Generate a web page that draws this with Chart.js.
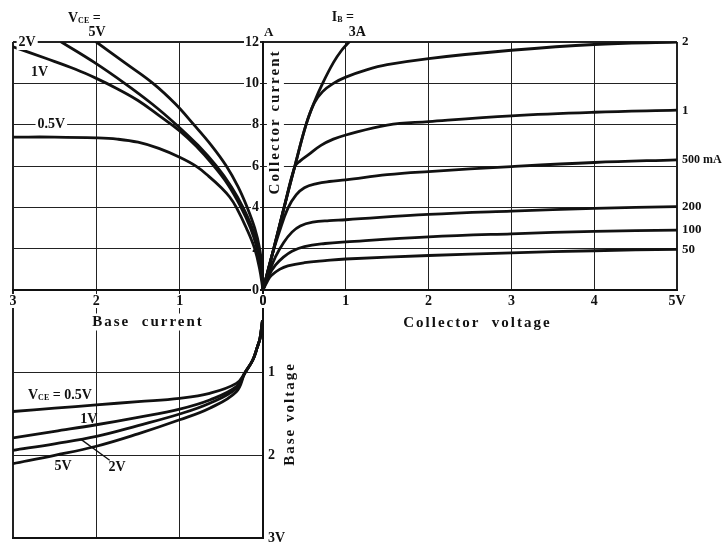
<!DOCTYPE html>
<html>
<head>
<meta charset="utf-8">
<script src="https://cdn.jsdelivr.net/npm/chart.js@4.4.1/dist/chart.umd.min.js"></script>
<style>
  html, body { margin: 0; padding: 0; background: #fff; }
  #wrap { position: relative; width: 723px; height: 542px; overflow: hidden; }
  canvas { position: absolute; }
  #cBase { left: 0; top: 280px; z-index: 1; }
  #cIcIb { left: 0; top: 0; z-index: 2; }
  #cIcVc { left: 250px; top: 0; z-index: 3; }
</style>
</head>
<body>
<div id="wrap">
  <canvas id="cBase" width="300" height="262"></canvas>
  <canvas id="cIcIb" width="300" height="345"></canvas>
  <canvas id="cIcVc" width="473" height="345"></canvas>
</div>
<script>
// tick values
const baseCurrentTicks = [0, 1, 2, 3];            // A (axis runs right to left)
const collectorCurrentTicks = [0, 2, 4, 6, 8, 10, 12]; // A
const collectorVoltageTicks = [0, 1, 2, 3, 4, 5];  // V
const baseVoltageTicks = [0, 1, 2, 3];             // V (downwards)

// collector voltage (V) -> collector current (A), one curve per base current
const ibLabels = ['3A', '2', '1', '500 mA', '200', '100', '50'];
const ib3A = [[0,0],[0.13,2],[0.255,4],[0.385,6],[0.52,8],[0.62,9.1],[0.72,10],[0.85,11],[0.95,11.6],[1.04,12]];
const ib2A = [[0,0],[0.13,2],[0.255,4],[0.385,6],[0.52,8],[0.62,9.05],[0.72,9.6],[0.85,10.0],[1,10.3],[1.25,10.65],[1.5,10.9],[2,11.2],[3,11.6],[4,11.88],[5,12]];
const ib1A = [[0,0],[0.13,2],[0.255,4],[0.385,5.97],[0.45,6.25],[0.55,6.55],[0.7,7.0],[0.85,7.3],[1,7.5],[1.5,7.98],[2,8.15],[3,8.43],[4,8.6],[5,8.7]];
const ib500 = [[0,0],[0.1,1.55],[0.2,2.85],[0.3,3.95],[0.4,4.6],[0.5,4.95],[0.65,5.15],[0.8,5.25],[1,5.33],[1.5,5.58],[2,5.73],[3,5.97],[4,6.17],[5,6.3]];
const ib200 = [[0,0],[0.07,0.8],[0.15,1.6],[0.25,2.3],[0.35,2.8],[0.45,3.1],[0.6,3.28],[0.8,3.36],[1,3.4],[2,3.66],[3,3.82],[4,3.95],[5,4.03]];
const ib100 = [[0,0],[0.07,0.7],[0.15,1.2],[0.25,1.6],[0.35,1.88],[0.5,2.1],[0.75,2.25],[1,2.33],[2,2.57],[3,2.72],[4,2.84],[5,2.9]];
const ib50 = [[0,0],[0.05,0.4],[0.1,0.7],[0.2,1.0],[0.3,1.17],[0.5,1.32],[0.75,1.42],[1,1.5],[2,1.67],[3,1.8],[4,1.9],[5,1.97]];

// base current (A) -> collector current (A), one curve per collector voltage
const ic5V = [[0,0],[0.01,1],[0.04,2],[0.1,3],[0.19,4],[0.3,5],[0.44,6],[0.62,7],[0.83,8],[1.05,9],[1.32,10],[1.66,11],[2.0,12]];
const ic2V = [[0,0],[0.02,1],[0.06,2],[0.13,3],[0.24,4],[0.38,5],[0.56,6],[0.78,7],[1.04,8],[1.33,9],[1.66,10],[2.02,11],[2.42,12]];
const ic1V = [[0,0],[0.02,1],[0.07,2],[0.15,3],[0.27,4.05],[0.42,5.1],[0.6,6.05],[0.8,6.95],[1.0,7.7],[1.25,8.45],[1.5,9.17],[1.75,9.74],[2.0,10.24],[2.25,10.68],[2.6,11.2],[3,11.77]];
const ic05V = [[0,0],[0.04,1],[0.1,2],[0.2,3],[0.32,4],[0.4,4.5],[0.5,4.95],[0.65,5.5],[0.8,5.98],[1.0,6.42],[1.25,6.85],[1.5,7.15],[1.75,7.3],[2.0,7.36],[2.5,7.4],[3,7.4]];

// base current (A) -> base voltage (V)
const vbCommon = [[0.008,0.38],[0.035,0.58],[0.068,0.69],[0.124,0.85],[0.216,1.0]];
const vb05V = [...vbCommon, [0.32,1.13],[0.64,1.25],[1,1.31],[1.5,1.35],[2,1.39],[2.5,1.43],[3,1.47]];
const vb1V = [...vbCommon, [0.32,1.17],[0.64,1.33],[1,1.44],[1.5,1.54],[2,1.63],[2.5,1.71],[3,1.79]];
const vb2V = [...vbCommon, [0.32,1.19],[0.64,1.37],[1,1.5],[1.5,1.64],[2,1.77],[2.5,1.86],[3,1.94]];
const vb5V = [...vbCommon, [0.32,1.23],[0.64,1.43],[1,1.57],[1.5,1.74],[2,1.89],[2.5,2.0],[3,2.1]];

const SERIF = '"Liberation Serif", "DejaVu Serif", "Times New Roman", serif';
Chart.defaults.font.family = SERIF;
Chart.defaults.font.weight = 'bold';
Chart.defaults.font.size = 14;
Chart.defaults.color = '#111';
Chart.defaults.animation = false;
Chart.defaults.plugins.legend.display = false;
Chart.defaults.plugins.tooltip.enabled = false;

function curve(points) {
    return {
        data: points.map(p => ({ x: p[0], y: p[1] })),
        borderColor: '#111',
        borderWidth: 2.8,
        pointRadius: 0,
        fill: false,
        tension: 0.4,
        borderCapStyle: 'round',
        borderJoinStyle: 'round'
    };
}

// thin grid, heavier frame
function grid(ticks) {
    const lo = Math.min(...ticks), hi = Math.max(...ticks);
    return {
        color: '#222',
        drawTicks: false,
        lineWidth: c => (c.tick && (c.tick.value === lo || c.tick.value === hi)) ? 2 : 1
    };
}

function fixedTicks(ticks) {
    return s => { s.ticks = ticks.map(v => ({ value: v })); };
}

// pin an axis to a set thickness and stop it pushing the plot area in
function fixedSize(prop, size) {
    return s => {
        s[prop] = size;
        s.paddingTop = s.paddingBottom = s.paddingLeft = s.paddingRight = 0;
    };
}

// text with optional subscripts, rotation and white backdrop
function drawRich(ctx, parts, x, y, o) {
    if (typeof parts === 'string') parts = [[parts, o.size || 14, 0]];
    ctx.save();
    ctx.translate(x, y);
    if (o.rotate) ctx.rotate(o.rotate);
    ctx.textBaseline = 'middle';
    ctx.textAlign = 'left';
    ctx.letterSpacing = (o.spacing || 0) + 'px';
    const widths = parts.map(p => {
        ctx.font = 'bold ' + p[1] + 'px ' + SERIF;
        return ctx.measureText(p[0]).width;
    });
    const total = widths.reduce((a, b) => a + b, 0);
    let cx = o.align === 'left' ? 0 : (o.align === 'right' ? -total : -total / 2);
    if (o.backdrop) {
        const h = (o.size || 14) + 2;
        ctx.fillStyle = '#fff';
        ctx.fillRect(cx - 2, -h / 2, total + 4, h);
    }
    ctx.fillStyle = '#111';
    parts.forEach((p, i) => {
        ctx.font = 'bold ' + p[1] + 'px ' + SERIF;
        ctx.fillText(p[0], cx, p[2] || 0);
        cx += widths[i];
    });
    ctx.restore();
}

function notes(items) {
    return {
        id: 'notes',
        afterDraw(chart) {
            const ctx = chart.ctx;
            const px = v => chart.scales.x.getPixelForValue(v);
            const py = v => chart.scales.y.getPixelForValue(v);
            items.forEach(it => {
                if (it.line) {
                    ctx.save();
                    ctx.strokeStyle = '#111';
                    ctx.lineWidth = 1.3;
                    ctx.beginPath();
                    ctx.moveTo(px(it.line[0][0]), py(it.line[0][1]));
                    ctx.lineTo(px(it.line[1][0]), py(it.line[1][1]));
                    ctx.stroke();
                    ctx.restore();
                    return;
                }
                drawRich(ctx, it.parts, px(it.at[0]) + (it.dx || 0), py(it.at[1]) + (it.dy || 0), it);
            });
        }
    };
}

const border = { display: true, color: '#111', width: 2 };

// top left: collector current against base current
new Chart(document.getElementById('cIcIb'), {
    type: 'line',
    data: { datasets: [ic5V, ic2V, ic1V, ic05V].map(curve) },
    options: {
        responsive: false,
        layout: { autoPadding: false, padding: { left: 13, top: 42, right: 37, bottom: 0 } },
        scales: {
            x: {
                type: 'linear', reverse: true,
                min: Math.min(...baseCurrentTicks), max: Math.max(...baseCurrentTicks),
                afterBuildTicks: fixedTicks(baseCurrentTicks),
                afterFit: fixedSize('height', 55),
                grid: grid(baseCurrentTicks), border: border,
                ticks: { padding: 4, font: { lineHeight: 1 }, showLabelBackdrop: true, backdropColor: '#fff', backdropPadding: 0 }
            },
            y: {
                type: 'linear', position: 'right',
                min: Math.min(...collectorCurrentTicks), max: Math.max(...collectorCurrentTicks),
                afterBuildTicks: fixedTicks(collectorCurrentTicks),
                afterFit: fixedSize('width', 0),
                grid: grid(collectorCurrentTicks), border: border,
                ticks: { mirror: true, padding: -4, font: { lineHeight: 1 }, showLabelBackdrop: true, backdropColor: '#fff', backdropPadding: 1 }
            }
        }
    },
    plugins: [notes([
        { at: [2.34, 12], dy: -24, align: 'left', parts: [['V', 14], ['CE', 8, 3], [' =', 14]] },
        { at: [1.99, 12], dy: -10, parts: '5V' },
        { at: [2.83, 12], parts: '2V', backdrop: true },
        { at: [2.68, 10.55], parts: '1V' },
        { at: [2.54, 8], parts: '0.5V', backdrop: true },
        { at: [0, 12], dx: 1, dy: -9, align: 'left', parts: 'A', size: 13 },
        { at: [1.38, 0], dy: 32, parts: 'Base  current', spacing: 2, size: 15, backdrop: true }
    ])]
});

// top right: collector current against collector voltage
new Chart(document.getElementById('cIcVc'), {
    type: 'line',
    data: { datasets: [ib3A, ib2A, ib1A, ib500, ib200, ib100, ib50].map(curve) },
    options: {
        responsive: false,
        layout: { autoPadding: false, padding: { left: 13, top: 42, right: 46, bottom: 0 } },
        scales: {
            x: {
                type: 'linear',
                min: Math.min(...collectorVoltageTicks), max: Math.max(...collectorVoltageTicks),
                afterBuildTicks: fixedTicks(collectorVoltageTicks),
                afterFit: fixedSize('height', 55),
                grid: grid(collectorVoltageTicks), border: border,
                ticks: { padding: 4, font: { lineHeight: 1 }, callback: v => v === 5 ? '5V' : v }
            },
            y: {
                type: 'linear',
                min: Math.min(...collectorCurrentTicks), max: Math.max(...collectorCurrentTicks),
                afterBuildTicks: fixedTicks(collectorCurrentTicks),
                afterFit: fixedSize('width', 0),
                grid: grid(collectorCurrentTicks), border: border,
                ticks: { display: false }
            }
        }
    },
    plugins: [notes([
        { at: [0.83, 12], dy: -25, align: 'left', parts: [['I', 14], ['B', 8, 3], [' =', 14]] },
        { at: [1.14, 12], dy: -10, parts: ibLabels[0] },
        { at: [5, ib2A[ib2A.length - 1][1]], dx: 5, align: 'left', parts: ibLabels[1], size: 13 },
        { at: [5, ib1A[ib1A.length - 1][1]], dx: 5, align: 'left', parts: ibLabels[2], size: 13 },
        { at: [5, ib500[ib500.length - 1][1]], dx: 5, align: 'left', parts: ibLabels[3], size: 12 },
        { at: [5, ib200[ib200.length - 1][1]], dx: 5, align: 'left', parts: ibLabels[4], size: 13 },
        { at: [5, ib100[ib100.length - 1][1]], dx: 5, align: 'left', parts: ibLabels[5], size: 13 },
        { at: [5, ib50[ib50.length - 1][1]], dx: 5, align: 'left', parts: ibLabels[6], size: 13 },
        { at: [0.15, 8.13], rotate: -Math.PI / 2, parts: 'Collector current', spacing: 2, size: 15, backdrop: true },
        { at: [2.59, 0], dy: 33, parts: 'Collector  voltage', spacing: 2, size: 15 }
    ])]
});

// bottom left: base voltage against base current
new Chart(document.getElementById('cBase'), {
    type: 'line',
    data: { datasets: [vb05V, vb1V, vb2V, vb5V].map(curve) },
    options: {
        responsive: false,
        layout: { autoPadding: false, padding: { left: 13, top: 10, right: 0, bottom: 0 } },
        scales: {
            x: {
                type: 'linear', reverse: true,
                min: Math.min(...baseCurrentTicks), max: Math.max(...baseCurrentTicks),
                afterBuildTicks: fixedTicks(baseCurrentTicks),
                afterFit: fixedSize('height', 4),
                grid: grid(baseCurrentTicks), border: border,
                ticks: { display: false }
            },
            y: {
                type: 'linear', position: 'right', reverse: true,
                min: Math.min(...baseVoltageTicks), max: Math.max(...baseVoltageTicks),
                afterBuildTicks: fixedTicks(baseVoltageTicks),
                afterFit: fixedSize('width', 37),
                grid: grid(baseVoltageTicks), border: border,
                ticks: { padding: 5, callback: v => v === 0 ? '' : (v === 3 ? '3V' : v) }
            }
        }
    },
    plugins: [notes([
        { at: [2.82, 1.27], align: 'left', parts: [['V', 14], ['CE', 8, 3], [' = 0.5V', 14]] },
        { at: [2.09, 1.57], parts: '1V' },
        { at: [2.40, 2.13], parts: '5V' },
        { at: [1.75, 2.14], parts: '2V' },
        { line: [[2.18, 1.81], [1.84, 2.06]] },
        { at: [0, 1.5], dx: 27, rotate: -Math.PI / 2, parts: 'Base voltage', spacing: 2, size: 15 }
    ])]
});
</script>
</body>
</html>
